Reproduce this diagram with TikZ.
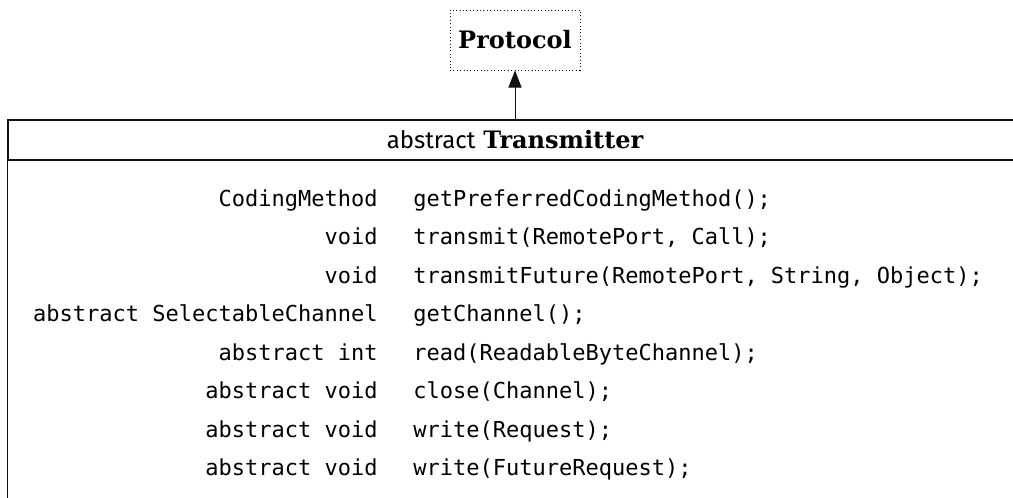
\documentclass[tikz,border=0pt]{standalone}
\usepackage{fontspec}
\usepackage{tikz}
\usetikzlibrary{arrows.meta, positioning}
\setmonofont{DejaVu Sans Mono}
\newfontfamily\slabfont{DejaVu Serif}
\newfontfamily\keywordfont{Fira Sans}
\definecolor{ink}{HTML}{111111}

\begin{document}
\begin{tikzpicture}[
    x=0.5pt, y=-0.5pt,
    % 1. INTERFAZ (recuadro punteado)
    iface/.style={
        draw=ink, dash pattern=on 0.5pt off 1.2pt, line width=0.5pt,
        minimum width=65pt, minimum height=30pt, inner sep=0pt,
        font=\slabfont\bfseries\fontsize{12}{14}\selectfont
    },
    % 2. CABECERA DE LA CLASE
    classhead/.style={
        draw=ink, line width=0.6pt,
        minimum width=507pt, minimum height=20pt, inner sep=0pt,
        font=\fontsize{12}{14}\selectfont
    },
    classline/.style={draw=ink, line width=0.6pt},
    % 3. MIEMBROS (tipo de retorno / firma)
    rettype/.style={anchor=base east, inner sep=0pt,
        font=\ttfamily\fontsize{11}{13}\selectfont},
    signature/.style={anchor=base west, inner sep=0pt,
        font=\ttfamily\fontsize{11}{13}\selectfont},
    % 4. FLECHA DE HERENCIA
    inherit/.style={-{Triangle[length=8.5pt, width=6.5pt]}, line width=0.5pt, color=ink}
]
    \useasboundingbox (0,0) rectangle (1013,498);
    \clip (0,0) rectangle (1013,498);

    % --- Interfaz ---
    \node[iface] (protocol) at (515,40) {Protocol};

    % --- Clase abstracta ---
    \node[classhead] (transmitter) at (515,140)
        {{\keywordfont abstract} {\slabfont\bfseries Transmitter}};
    \draw[classline] (transmitter.south west) rectangle ([yshift=-200pt]transmitter.south east);

    % --- Miembros ---
    \node[rettype]   (ret1) at (378,206)   {CodingMethod};
    \node[signature] (sig1) at (413,206)   {getPreferredCodingMethod();};
    \node[rettype]   (ret2) at (378,244.5) {void};
    \node[signature] (sig2) at (413,244.5) {transmit(RemotePort, Call);};
    \node[rettype]   (ret3) at (378,283)   {void};
    \node[signature] (sig3) at (413,283)   {transmitFuture(RemotePort, String, Object);};
    \node[rettype]   (ret4) at (378,321.5) {abstract SelectableChannel};
    \node[signature] (sig4) at (413,321.5) {getChannel();};
    \node[rettype]   (ret5) at (378,360)   {abstract int};
    \node[signature] (sig5) at (413,360)   {read(ReadableByteChannel);};
    \node[rettype]   (ret6) at (378,398.5) {abstract void};
    \node[signature] (sig6) at (413,398.5) {close(Channel);};
    \node[rettype]   (ret7) at (378,437)   {abstract void};
    \node[signature] (sig7) at (413,437)   {write(Request);};
    \node[rettype]   (ret8) at (378,475.5) {abstract void};
    \node[signature] (sig8) at (413,475.5) {write(FutureRequest);};

    % --- Herencia ---
    \draw[inherit] (transmitter.north) -- (protocol.south);

\end{tikzpicture}
\end{document}
